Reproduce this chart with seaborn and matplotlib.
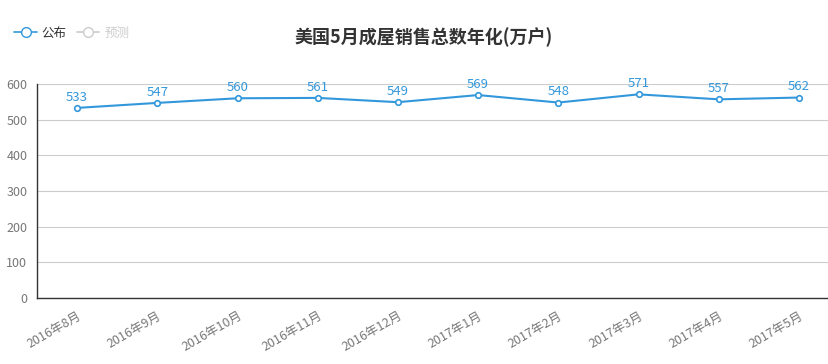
import matplotlib
matplotlib.use("Agg")
import matplotlib.pyplot as plt
from matplotlib.lines import Line2D
import seaborn as sns
import numpy as np

# data
months = ["2016年8月", "2016年9月", "2016年10月", "2016年11月", "2016年12月",
          "2017年1月", "2017年2月", "2017年3月", "2017年4月", "2017年5月"]
published = [533, 547, 560, 561, 549, 569, 548, 571, 557, 562]
y_ticks = [0, 100, 200, 300, 400, 500, 600]

blue = "#3398DB"

sns.set_style("white")
plt.rcParams['font.family'] = ['Noto Sans CJK SC', 'DejaVu Sans']

fig = plt.figure(figsize=(8.29, 3.64), dpi=100)
ax = fig.add_axes([37 / 829, 1 - 298 / 364, 802 / 829, (298 - 84) / 364])

x = np.arange(len(months))
sns.lineplot(x=x, y=published, ax=ax, color=blue, linewidth=1.5,
             marker="o", markersize=4, markerfacecolor="white",
             markeredgecolor=blue, markeredgewidth=1.2)

for xi, v in zip(x, published):
    ax.annotate(str(v), (xi, v), xytext=(0, 3), textcoords="offset points",
                ha="center", va="bottom", fontsize=9.5, color=blue)

ax.set_xlim(-0.5, len(months) - 0.5)
ax.set_ylim(0, 600)
ax.set_yticks(y_ticks)
ax.yaxis.grid(True, color="#cccccc", linewidth=0.8)
ax.set_axisbelow(True)

ax.set_xticks(x)
ax.set_xticklabels(months, rotation=30, ha="right", va="top",
                   rotation_mode="anchor", fontsize=9, color="#777777")
ax.set_xticks(np.arange(len(months) + 1) - 0.5, minor=True)
ax.tick_params(axis="x", which="major", length=0, pad=8)
ax.tick_params(axis="x", which="minor", length=4, color="#333333", width=1, direction="out")
ax.tick_params(axis="y", length=4, color="#333333", width=1, direction="out",
               labelsize=9, labelcolor="#777777", pad=3)

for s in ["top", "right"]:
    ax.spines[s].set_visible(False)
for s in ["left", "bottom"]:
    ax.spines[s].set_color("#333333")
    ax.spines[s].set_linewidth(1)

ax.set_xlabel("")
ax.set_ylabel("")

fig.text(424 / 829, 1 - 37 / 364, "美国5月成屋销售总数年化(万户)", ha="center", va="center",
         fontsize=13, fontweight="bold", color="#333333")

handles = [
    Line2D([], [], color=blue, linewidth=1.2, marker="o", markersize=7,
           markerfacecolor="white", markeredgecolor=blue),
    Line2D([], [], color="#cccccc", linewidth=1.2, marker="o", markersize=7,
           markerfacecolor="white", markeredgecolor="#cccccc"),
]
fig.legend(handles, ["公布", "预测"], loc="center left",
           bbox_to_anchor=(3 / 829, 1 - 33 / 364), ncol=2, frameon=False,
           fontsize=9, labelcolor=["#333333", "#cccccc"], handlelength=1.8,
           handletextpad=0.4, columnspacing=0.8)

fig.savefig("out.png", dpi=100)
